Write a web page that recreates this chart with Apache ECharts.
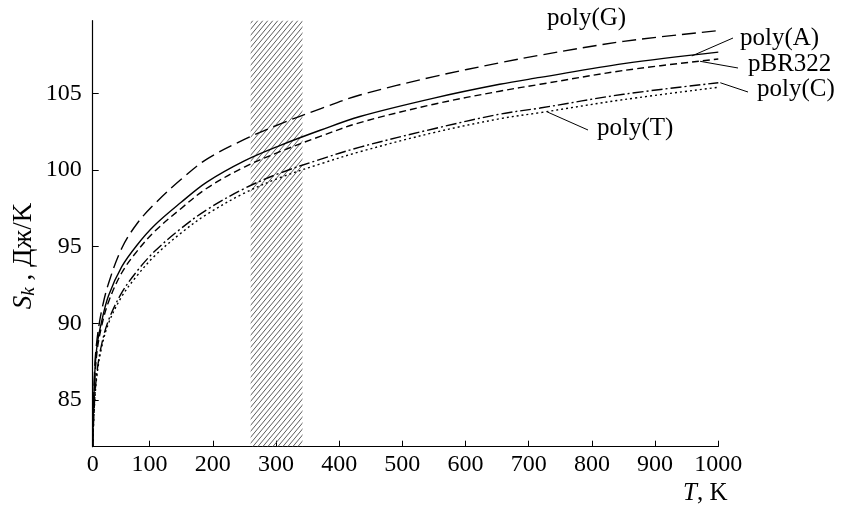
<!DOCTYPE html>
<html lang="ru">
<head>
<meta charset="UTF-8">
<title>Sk(T)</title>
<style>
  html, body { margin: 0; padding: 0; background: #fff; }
  #chart { width: 841px; height: 506px; }
</style>
</head>
<body>
<div id="chart"></div>
<script src="https://cdn.jsdelivr.net/npm/echarts@6/dist/echarts.min.js"></script>
<script>
// temperatures, K
var temps   = [10, 13, 17, 24, 35, 56, 80, 108, 150, 190, 250, 306, 370, 433, 550, 654, 718, 850, 1000];
// entropy, J/K
var polyG   = [82.0, 87.0, 89.0, 90.8, 92.6, 94.9, 96.5, 97.8, 99.4, 100.7, 102.0, 103.0, 104.0, 104.9, 106.1, 107.0, 107.5, 108.4, 109.1];
var polyA   = [82.0, 86.5, 88.6, 90.1, 91.8, 93.7, 95.1, 96.4, 97.9, 99.2, 100.6, 101.6, 102.6, 103.5, 104.7, 105.6, 106.05, 106.95, 107.7];
var pBR322  = [82.0, 86.0, 88.2, 89.8, 91.4, 93.3, 94.7, 96.0, 97.5, 98.8, 100.2, 101.2, 102.2, 103.1, 104.3, 105.15, 105.6, 106.5, 107.25];
var polyC   = [82.0, 85.0, 86.9, 88.6, 90.2, 92.0, 93.4, 94.7, 96.2, 97.4, 98.8, 99.8, 100.7, 101.5, 102.7, 103.65, 104.05, 104.95, 105.7];
var polyT   = [82.0, 84.8, 86.7, 88.4, 90.0, 91.75, 93.1, 94.4, 95.9, 97.1, 98.5, 99.5, 100.4, 101.2, 102.45, 103.35, 103.75, 104.6, 105.4];

var xTicks  = [100, 200, 300, 400, 500, 600, 700, 800, 900, 1000];
var xLabels = [10, 100, 200, 300, 400, 500, 600, 700, 800, 900, 1000]; // axis origin is printed as 0
var yTicks  = [85, 90, 95, 100, 105];
var band    = [260, 342]; // hatched temperature range

// label anchors on the curves [T, S] and label names
var names   = ['poly(G)', 'poly(A)', 'pBR322', 'poly(C)', 'poly(T)'];
var anchors = [null, [955, 107.45], [968, 107.1], [1000, 105.7], [726, 103.8]];

var FONT = '"Liberation Serif", "Times New Roman", serif';

// diagonal hatching tile, lines a bit steeper than 45 deg
function hatch() {
    var w = 5, h = 6;
    var c = document.createElement('canvas');
    c.width = w; c.height = h;
    var g = c.getContext('2d');
    g.strokeStyle = '#4a4a4a';
    g.lineWidth = 0.9;
    g.beginPath();
    g.moveTo(0, h); g.lineTo(w, 0);
    g.moveTo(-w, h); g.lineTo(0, 0);
    g.moveTo(w, h); g.lineTo(2 * w, 0);
    g.stroke();
    return c;
}

function pairs(vals) {
    return temps.map(function (t, i) { return [t, vals[i]]; });
}

function curve(name, vals, dash) {
    return {
        name: name,
        type: 'line',
        data: pairs(vals),
        smooth: 0.35,
        showSymbol: false,
        silent: true,
        z: 3,
        lineStyle: { color: '#000', width: 1.4, type: dash }
    };
}

var chart = echarts.init(document.getElementById('chart'), null, { renderer: 'canvas' });

var option = {
    animation: false,
    backgroundColor: '#fff',
    grid: { left: 92.7, right: 122.7, top: 20.7, bottom: 59.3 },
    xAxis: {
        type: 'value',
        min: 10,
        max: 1000,
        splitLine: { show: false },
        axisLine: { lineStyle: { color: '#000', width: 1.2 } },
        axisTick: { inside: true, length: 6, customValues: xTicks, lineStyle: { color: '#000' } },
        axisLabel: {
            customValues: xLabels,
            margin: 6,
            color: '#000',
            fontFamily: FONT,
            fontSize: 24,
            formatter: function (v) { return v === 10 ? '0' : String(v); }
        }
    },
    yAxis: {
        type: 'value',
        min: 81.95,
        max: 109.75,
        splitLine: { show: false },
        axisLine: { lineStyle: { color: '#000', width: 1.2 } },
        axisTick: { inside: true, length: 6, customValues: yTicks, lineStyle: { color: '#000' } },
        axisLabel: {
            customValues: yTicks,
            margin: 11,
            color: '#000',
            fontFamily: FONT,
            fontSize: 24
        }
    },
    series: [
        {
            name: 'band',
            type: 'line',
            data: [],
            z: 1,
            markArea: {
                silent: true,
                itemStyle: { color: { image: hatch(), repeat: 'repeat' }, borderWidth: 0 },
                data: [[{ xAxis: band[0] }, { xAxis: band[1] }]]
            }
        },
        curve('poly(G)', polyG, [14, 6]),
        curve('poly(A)', polyA, 'solid'),
        curve('pBR322', pBR322, [7, 4]),
        curve('poly(C)', polyC, [11, 3, 2, 3]),
        curve('poly(T)', polyT, [2, 3])
    ]
};

chart.setOption(option);

// curve labels with leader lines
var textPos = [[547, 20], [740, 40], [748, 66], [757, 91], [597, 130]];
var leadEnd = [null, [733, 38], [738, 68], [748, 92], [588, 130]];
var graphics = [];
names.forEach(function (n, i) {
    graphics.push({
        type: 'text',
        left: textPos[i][0],
        top: textPos[i][1] - 14,
        style: { text: n, font: '25px ' + FONT, fill: '#000' },
        silent: true
    });
    if (anchors[i]) {
        var p = chart.convertToPixel({ seriesIndex: i + 1 }, anchors[i]);
        graphics.push({
            type: 'line',
            shape: { x1: p[0] + 2, y1: p[1], x2: leadEnd[i][0], y2: leadEnd[i][1] },
            style: { stroke: '#000', lineWidth: 1 },
            silent: true
        });
    }
});

// axis names
graphics.push({
    type: 'text',
    left: 683,
    top: 481,
    style: {
        text: '{i|T}, K',
        font: '25px ' + FONT,
        fill: '#000',
        rich: { i: { fontStyle: 'italic', fontFamily: FONT, fontSize: 25 } }
    },
    silent: true
});
graphics.push({
    type: 'text',
    x: 24,
    y: 256,
    rotation: Math.PI / 2,
    style: {
        text: '{i|S}{k|k} , Дж/K',
        font: '27px ' + FONT,
        fill: '#000',
        align: 'center',
        verticalAlign: 'middle',
        rich: {
            i: { fontStyle: 'italic', fontFamily: FONT, fontSize: 27 },
            k: { fontStyle: 'italic', fontFamily: FONT, fontSize: 19, padding: [9, 0, 0, 0] }
        }
    },
    silent: true
});

chart.setOption({ graphic: graphics });
</script>
</body>
</html>
